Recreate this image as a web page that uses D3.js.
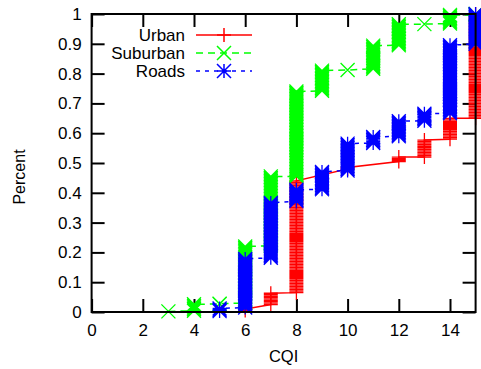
<!DOCTYPE html>
<html>
<head>
<meta charset="utf-8">
<script src="https://cdn.jsdelivr.net/npm/d3@7"></script>
<style>
  html, body { margin: 0; padding: 0; background: #fff; }
  svg { display: block; font-family: "Liberation Sans", Arial, Helvetica, sans-serif; }
</style>
</head>
<body>
<svg id="chart" width="481" height="369"></svg>
<script>
// ---- Data (CDF of CQI). Each column: CQI value, CDF at start of column, CDF at end ----
const xTicks = [0, 2, 4, 6, 8, 10, 12, 14];
const yTicks = [0, 0.1, 0.2, 0.3, 0.4, 0.5, 0.6, 0.7, 0.8, 0.9, 1];

const urbanCqi = [6, 7, 8, 10, 12, 13, 14, 15];
const urbanLo  = [0.005, 0.025, 0.065, 0.480, 0.505, 0.520, 0.580, 0.650];
const urbanHi  = [0.010, 0.063, 0.440, 0.485, 0.520, 0.577, 0.650, 1.000];

const suburbanCqi = [3, 4, 5, 6, 7, 8, 9, 10, 11, 12, 13, 14, 15];
const suburbanLo  = [0.002, 0.004, 0.027, 0.030, 0.222, 0.455, 0.742, 0.812, 0.816, 0.895, 0.966, 0.968, 0.997];
const suburbanHi  = [0.002, 0.026, 0.028, 0.220, 0.455, 0.740, 0.810, 0.812, 0.894, 0.966, 0.966, 0.997, 1.000];

const roadsCqi = [5, 6, 7, 8, 9, 10, 11, 12, 13, 14, 15];
const roadsLo  = [0.003, 0.015, 0.182, 0.372, 0.412, 0.475, 0.567, 0.590, 0.642, 0.667, 0.900];
const roadsHi  = [0.012, 0.178, 0.366, 0.410, 0.470, 0.565, 0.587, 0.640, 0.665, 0.895, 1.000];

const seriesNames = ["Urban", "Suburban", "Roads"];

// ---- Layout ----
const svg = d3.select("#chart");
const x = d3.scaleLinear().domain([0, 15]).range([91.6, 475.6]);
const y = d3.scaleLinear().domain([0, 1]).range([312, 14]);
const fontSize = 17;

const series = [
  { name: seriesNames[0], cqi: urbanCqi, lo: urbanLo, hi: urbanHi, color: "#ff0000", dash: null, marker: "plus" },
  { name: seriesNames[1], cqi: suburbanCqi, lo: suburbanLo, hi: suburbanHi, color: "#00ff00", dash: "7,5", marker: "cross" },
  { name: seriesNames[2], cqi: roadsCqi, lo: roadsLo, hi: roadsHi, color: "#0000ff", dash: "4,5", marker: "star" }
];

// ---- Axes (ticks drawn behind data, inward) ----
function styleAxis(g) {
  g.select(".domain").remove();
  g.selectAll(".tick line").attr("stroke", "#000").attr("stroke-width", 2);
  g.selectAll(".tick text").attr("fill", "#000").style("font-size", fontSize + "px");
}
svg.append("g").attr("transform", `translate(0,${y(0)})`)
  .call(d3.axisBottom(x).tickValues(xTicks).tickSize(-13).tickPadding(12).tickFormat(d3.format("d")))
  .call(styleAxis);
svg.append("g").attr("transform", `translate(0,${y(1)})`)
  .call(d3.axisTop(x).tickValues(xTicks).tickSize(-13).tickFormat(""))
  .call(styleAxis);
svg.append("g").attr("transform", `translate(${x(0)},0)`)
  .call(d3.axisLeft(y).tickValues(yTicks).tickSize(-13).tickPadding(10).tickFormat(d => d === 0 ? "0" : d === 1 ? "1" : d3.format(".1f")(d)))
  .call(styleAxis);
svg.append("g").attr("transform", `translate(${x(15)},0)`)
  .call(d3.axisRight(y).tickValues(yTicks).tickSize(-13).tickFormat(""))
  .call(styleAxis);

// ---- Marker shapes ----
const R = 7;
function addMarker(p, type, cx, cy) {
  if (type === "plus" || type === "star") {
    p.moveTo(cx - R, cy); p.lineTo(cx + R, cy);
    p.moveTo(cx, cy - R); p.lineTo(cx, cy + R);
  }
  if (type === "cross" || type === "star") {
    p.moveTo(cx - R, cy - R); p.lineTo(cx + R, cy + R);
    p.moveTo(cx - R, cy + R); p.lineTo(cx + R, cy - R);
  }
}

const plot = svg.append("g");
series.forEach(s => {
  // connecting line: vertical within a column, then across to next column
  const pts = [];
  s.cqi.forEach((c, i) => { pts.push([c, s.lo[i]]); pts.push([c, s.hi[i]]); });
  const line = d3.line().x(d => x(d[0])).y(d => y(d[1]));
  plot.append("path")
    .attr("d", line(pts))
    .attr("fill", "none")
    .attr("stroke", s.color)
    .attr("stroke-width", 1.5)
    .attr("stroke-dasharray", s.dash);

  // markers: each column rendered as a dense stack of markers between lo and hi
  const p = d3.path();
  s.cqi.forEach((c, i) => {
    const cx = x(c);
    const y0 = y(s.lo[i]), y1 = y(s.hi[i]);
    const n = Math.max(1, Math.round(Math.abs(y0 - y1) / 1.5));
    for (let k = 0; k <= n; k++) {
      addMarker(p, s.marker, cx, y0 + (y1 - y0) * (k / n));
    }
  });
  plot.append("path")
    .attr("d", p.toString())
    .attr("fill", "none")
    .attr("stroke", s.color)
    .attr("stroke-width", 1.3);
});

// ---- Border (front) ----
svg.append("rect")
  .attr("x", x(0)).attr("y", y(1))
  .attr("width", x(15) - x(0)).attr("height", y(0) - y(1))
  .attr("fill", "none").attr("stroke", "#000").attr("stroke-width", 2);

// ---- Legend ----
const legend = svg.append("g");
series.forEach((s, i) => {
  const ly = 35 + i * 18;
  legend.append("text")
    .attr("x", 185).attr("y", ly).attr("dy", "0.35em")
    .attr("text-anchor", "end")
    .style("font-size", fontSize + "px")
    .text(s.name);
  legend.append("line")
    .attr("x1", 196).attr("x2", 252).attr("y1", ly).attr("y2", ly)
    .attr("stroke", s.color).attr("stroke-width", 1.5)
    .attr("stroke-dasharray", s.dash);
  const mp = d3.path();
  addMarker(mp, s.marker, 224, ly);
  legend.append("path").attr("d", mp.toString())
    .attr("fill", "none").attr("stroke", s.color).attr("stroke-width", 1.5);
});

// ---- Axis titles ----
svg.append("text")
  .attr("transform", "translate(19,177) rotate(-90)")
  .attr("text-anchor", "middle").attr("dy", "0.35em")
  .style("font-size", "16px")
  .text("Percent");
svg.append("text")
  .attr("x", (x(0) + x(15)) / 2).attr("y", 361.5)
  .attr("text-anchor", "middle")
  .style("font-size", "16.5px")
  .text("CQI");
</script>
</body>
</html>
